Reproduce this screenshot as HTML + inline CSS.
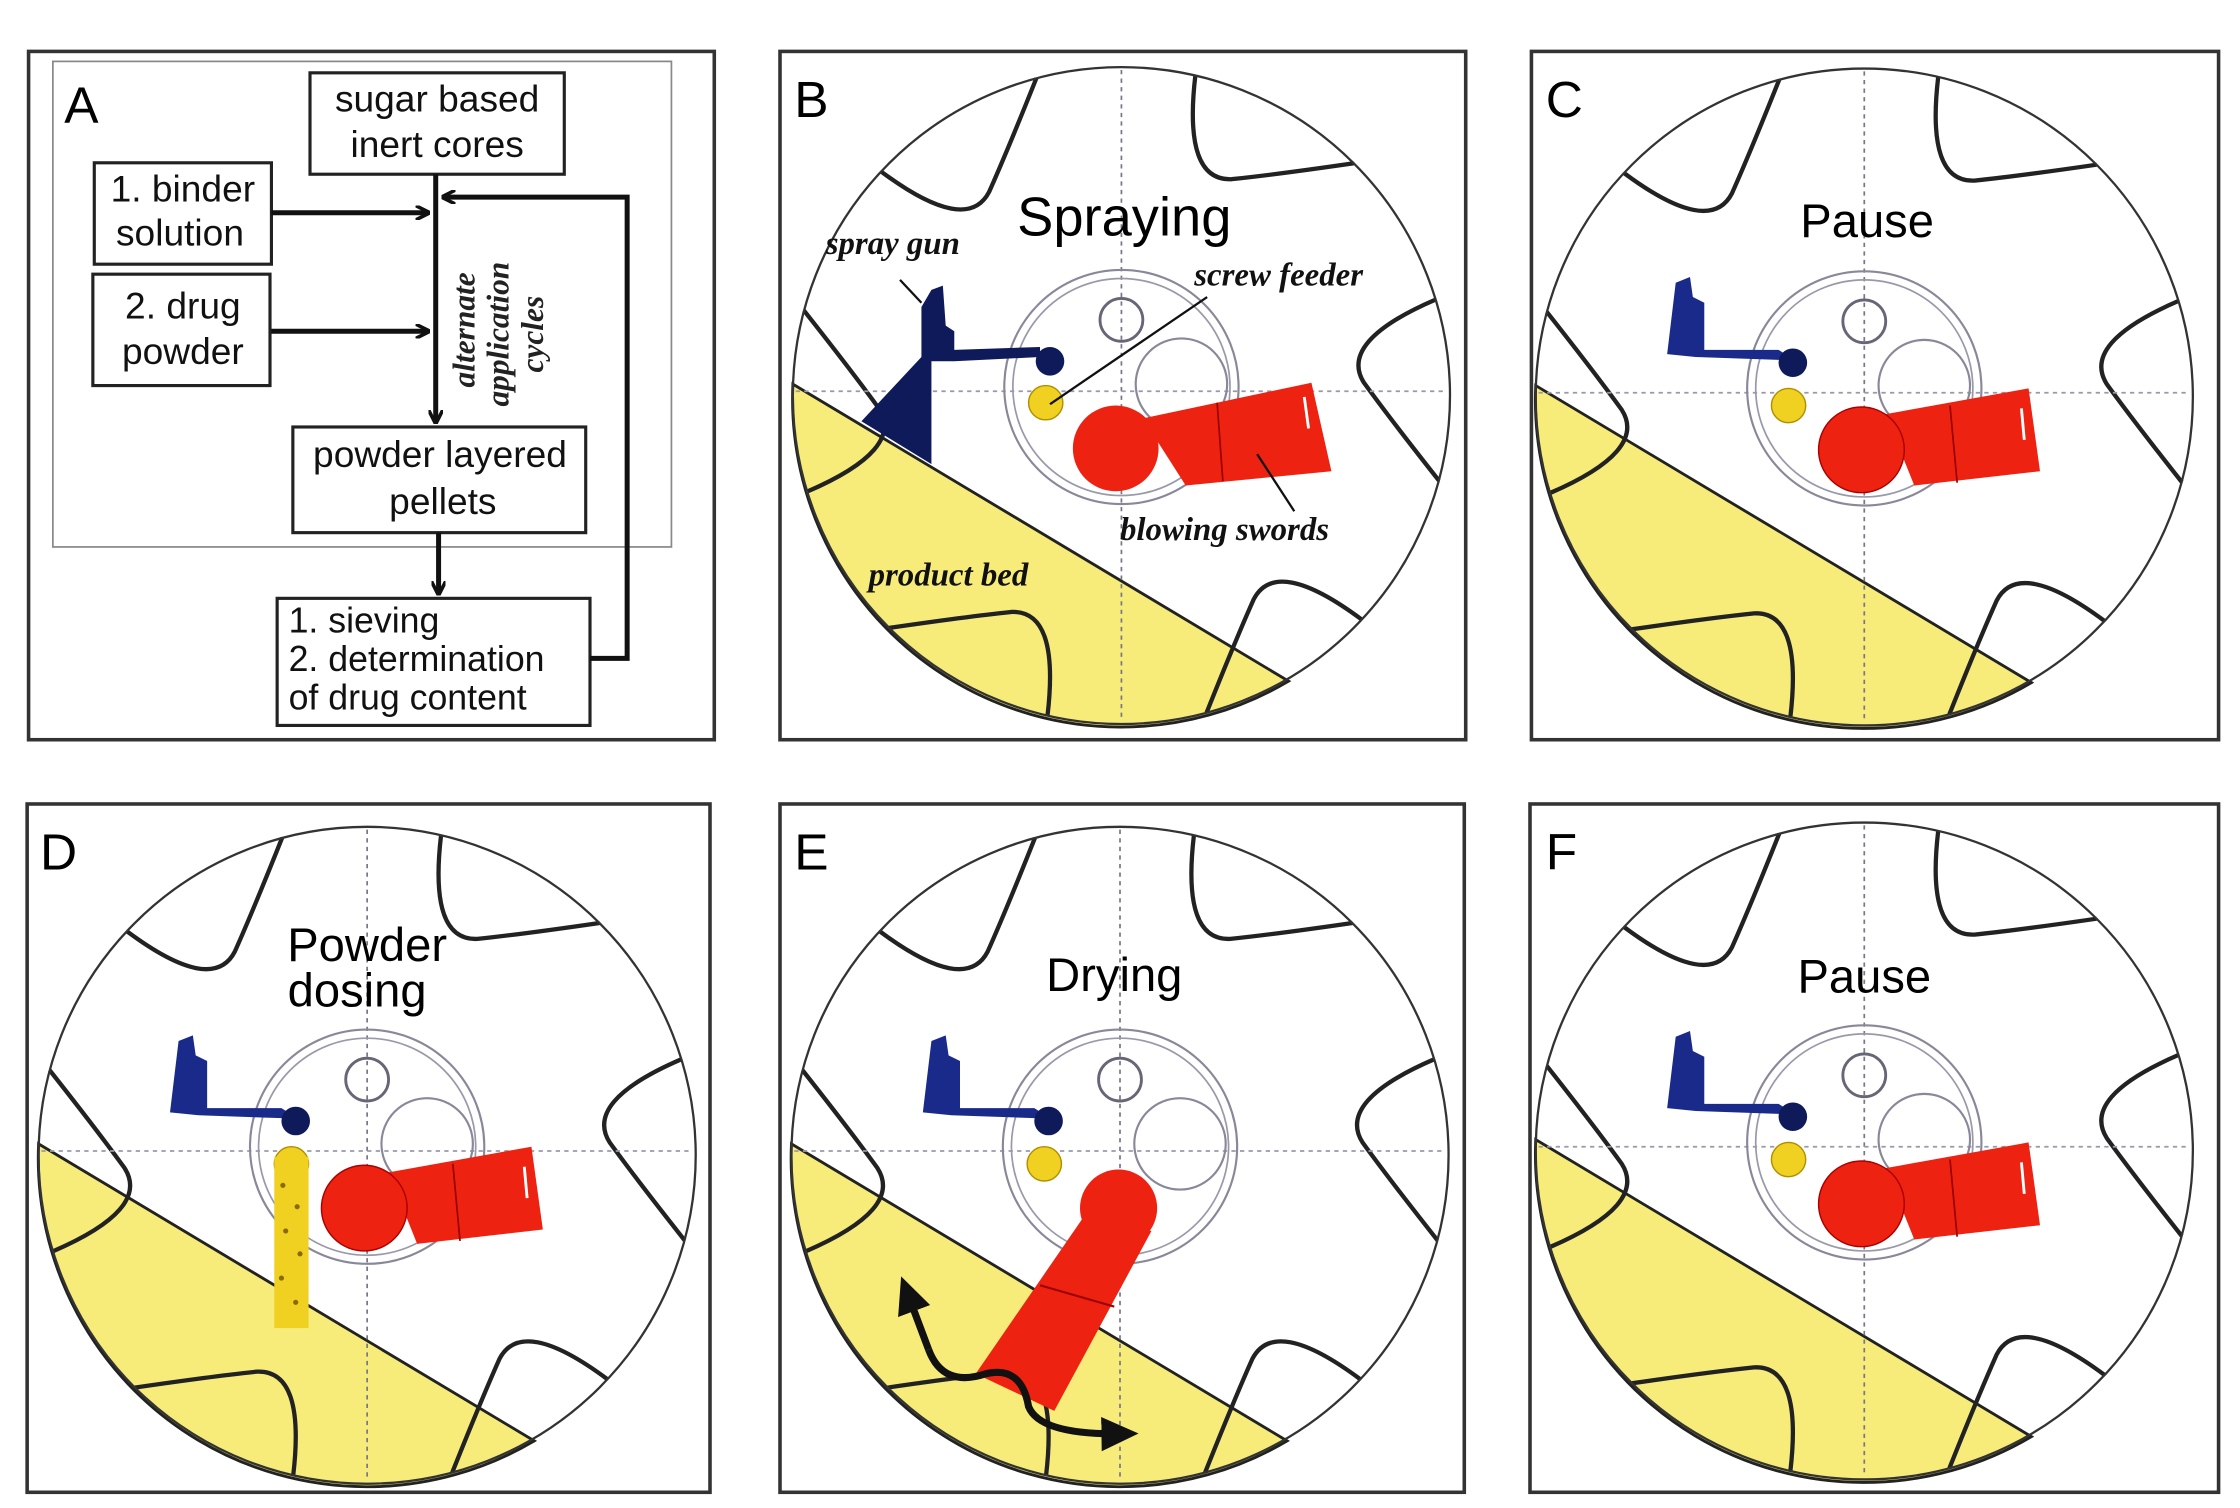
<!DOCTYPE html>
<html><head><meta charset="utf-8"><style>html,body{margin:0;padding:0;background:#fff}svg{display:block}</style></head>
<body>
<svg width="2240" height="1508" viewBox="0 0 1568 1056" preserveAspectRatio="none" xmlns="http://www.w3.org/2000/svg" font-family="Liberation Sans, sans-serif">
<defs>
<marker id="ah" markerWidth="10" markerHeight="10" refX="9" refY="5" orient="auto" markerUnits="userSpaceOnUse"><path d="M0,0 L10,5 L0,10" fill="none" stroke="#111" stroke-width="2.5"/></marker>
<marker id="bh" markerWidth="30" markerHeight="30" refX="14" refY="12" orient="auto" markerUnits="userSpaceOnUse"><path d="M0,0 L26,12 L0,24 Z" fill="#111"/></marker>
<path id="blade" d="M230,0 Q155.8,8.2 165,41.1 Q175.2,70.8 195.1,121.9" fill="none" stroke="#222" stroke-width="3"/>
<g id="wheel">
<path d="M-230,-8 L117,200 A230 230 0 0 1 -230,-8 Z" fill="#f7ec7a" stroke="#222" stroke-width="2"/>
<use href="#blade" transform="rotate(223)"/>
<use href="#blade" transform="rotate(283)"/>
<use href="#blade" transform="rotate(343)"/>
<use href="#blade" transform="rotate(43)"/>
<use href="#blade" transform="rotate(103)"/>
<use href="#blade" transform="rotate(163)"/>
<circle r="230" fill="none" stroke="#333" stroke-width="1.6"/>
<line x1="0" y1="-228" x2="0" y2="228" stroke="#778" stroke-width="1.2" stroke-dasharray="3,3"/>
<line x1="-228" y1="-3" x2="228" y2="-3" stroke="#99a" stroke-width="1.2" stroke-dasharray="3,3"/>
<circle cx="0" cy="-6" r="82" fill="none" stroke="#889" stroke-width="1.5"/>
<circle cx="0" cy="-6" r="76" fill="none" stroke="#99a" stroke-width="1.2"/>
<circle cx="0" cy="-53" r="15" fill="none" stroke="#667" stroke-width="2"/>
<circle cx="42" cy="-8" r="32" fill="none" stroke="#889" stroke-width="1.5"/>
</g>
<g id="parts">
<path d="M-132,-80 L-122,-84 L-120,-70 L-112,-66 L-112,-33 L-60,-33 L-52,-28 L-60,-26 L-118,-28 L-138,-30 Z" fill="#1a2a8a"/>
<circle cx="-50" cy="-24" r="10" fill="#0e1a5a"/>
<circle cx="-53" cy="6" r="12" fill="#f0d020" stroke="#b09000"/>
<path d="M15,12 L115,-6 L123,52 L35,62 Z" fill="#ee2211"/>
<circle cx="-2" cy="37" r="30" fill="#ee2211" stroke="#a00" stroke-width="1"/>
<line x1="60" y1="6" x2="65" y2="60" stroke="#900" stroke-width="1.2"/>
<line x1="110" y1="8" x2="112" y2="30" stroke="#fff" stroke-width="2"/>
</g>
</defs>

<g fill="none" stroke="#333" stroke-width="2.5">
<rect x="20" y="36" width="480" height="482"/>
<rect x="546" y="36" width="480" height="482"/>
<rect x="1072" y="36" width="481" height="482"/>
<rect x="19" y="563" width="478" height="482"/>
<rect x="546" y="563" width="479" height="482"/>
<rect x="1071" y="563" width="482" height="482"/>
</g>

<rect x="37" y="43" width="433" height="340" fill="none" stroke="#888" stroke-width="1.2"/>
<text x="45" y="86" font-size="36">A</text>
<g fill="#fff" stroke="#222" stroke-width="2.2">
<rect x="217" y="51" width="178" height="71"/>
<rect x="66" y="114" width="124" height="71"/>
<rect x="65" y="192" width="124" height="78"/>
<rect x="205" y="299" width="205" height="74"/>
<rect x="194" y="419" width="219" height="89"/>
</g>
<g font-size="26" fill="#111" text-anchor="middle">
<text x="306" y="78">sugar based</text>
<text x="306" y="110">inert cores</text>
<text x="128" y="141">1. binder</text>
<text x="126" y="172">solution</text>
<text x="128" y="223">2. drug</text>
<text x="128" y="255">powder</text>
<text x="308" y="327">powder layered</text>
<text x="310" y="360">pellets</text>
</g>
<g font-size="25" fill="#111">
<text x="202" y="443">1. sieving</text>
<text x="202" y="470">2. determination</text>
<text x="202" y="497">of drug content</text>
</g>
<g stroke="#111" stroke-width="3.5" fill="none">
<line x1="305" y1="122" x2="305" y2="296" marker-end="url(#ah)"/>
<line x1="190" y1="149" x2="300" y2="149" marker-end="url(#ah)"/>
<line x1="190" y1="232" x2="300" y2="232" marker-end="url(#ah)"/>
<line x1="307" y1="373" x2="307" y2="416" marker-end="url(#ah)"/>
<polyline points="413,461 439,461 439,138 310,138" marker-end="url(#ah)"/>
</g>
<g font-family="Liberation Serif, serif" font-style="italic" font-weight="bold" font-size="22" fill="#222" text-anchor="middle">
<text transform="translate(332,231) rotate(-90)">alternate</text>
<text transform="translate(356,234) rotate(-90)">application</text>
<text transform="translate(380,234) rotate(-90)">cycles</text>
</g>

<use href="#wheel" transform="translate(785,277)"/>
<path d="M603,295 L645,250 L645,215 L652,203 L660,200 L662,228 L668,232 L668,245 L728,243 L728,250 L668,253 L652,253 L652,325 Z" fill="#0e1a5a"/>
<circle cx="735" cy="253" r="10" fill="#0e1a5a"/>
<circle cx="732" cy="282" r="12" fill="#f0d020" stroke="#b09000"/>
<path d="M800,293 L918,268 L932,330 L830,340 Z" fill="#ee2211"/>
<circle cx="781" cy="314" r="30" fill="#ee2211"/>
<line x1="852" y1="282" x2="856" y2="337" stroke="#900" stroke-width="1.2"/>
<line x1="913" y1="278" x2="916" y2="300" stroke="#fff" stroke-width="2"/>
<g stroke="#111" stroke-width="1.6">
<line x1="735" y1="283" x2="845" y2="208"/>
<line x1="880" y1="318" x2="906" y2="358"/>
<line x1="630" y1="196" x2="645" y2="212"/>
</g>
<text x="787" y="165" font-size="38" text-anchor="middle">Spraying</text>
<g font-family="Liberation Serif, serif" font-style="italic" font-weight="bold" font-size="23" fill="#111">
<text x="578" y="178">spray gun</text>
<text x="836" y="200">screw feeder</text>
<text x="784" y="378">blowing swords</text>
<text x="608" y="410">product bed</text>
</g>
<text x="556" y="82" font-size="36">B</text>

<use href="#wheel" transform="translate(1305,278)"/>
<use href="#parts" transform="translate(1305,278)"/>
<text x="1307" y="166" font-size="33" text-anchor="middle">Pause</text>
<text x="1082" y="82" font-size="36">C</text>

<use href="#wheel" transform="translate(257,809)"/>
<use href="#parts" transform="translate(257,809)"/>
<rect x="192" y="810" width="24" height="120" fill="#f0d020"/>
<g fill="#8a6a00"><circle cx="198" cy="830" r="1.8"/><circle cx="208" cy="845" r="1.8"/><circle cx="200" cy="862" r="1.8"/><circle cx="210" cy="878" r="1.8"/><circle cx="197" cy="895" r="1.8"/><circle cx="207" cy="912" r="1.8"/></g>
<text x="257" y="673" font-size="33" text-anchor="middle">Powder</text>
<text x="250" y="705" font-size="33" text-anchor="middle">dosing</text>
<text x="28" y="609" font-size="36">D</text>

<use href="#wheel" transform="translate(784,809)"/>
<path d="M-132,-80 L-122,-84 L-120,-70 L-112,-66 L-112,-33 L-60,-33 L-52,-28 L-60,-26 L-118,-28 L-138,-30 Z" fill="#1a2a8a" transform="translate(784,809)"/>
<circle cx="734" cy="785" r="10" fill="#0e1a5a"/>
<circle cx="731" cy="815" r="12" fill="#f0d020" stroke="#b09000"/>
<path d="M760,850 L806,862 L738,988 L683,962 Z" fill="#ee2211"/>
<circle cx="783" cy="846" r="27" fill="#ee2211"/>
<line x1="728" y1="900" x2="780" y2="915" stroke="#900" stroke-width="1.5"/>
<path d="M650,945 Q660,972 690,962 Q715,956 720,985 Q728,1005 785,1004" fill="none" stroke="#111" stroke-width="5" marker-end="url(#bh)"/>
<path d="M650,945 L635,905" fill="none" stroke="#111" stroke-width="5" marker-end="url(#bh)"/>
<text x="780" y="694" font-size="33" text-anchor="middle">Drying</text>
<text x="556" y="609" font-size="36">E</text>

<use href="#wheel" transform="translate(1305,806)"/>
<use href="#parts" transform="translate(1305,806)"/>
<text x="1305" y="695" font-size="33" text-anchor="middle">Pause</text>
<text x="1082" y="609" font-size="36">F</text>
</svg>
</body></html>
